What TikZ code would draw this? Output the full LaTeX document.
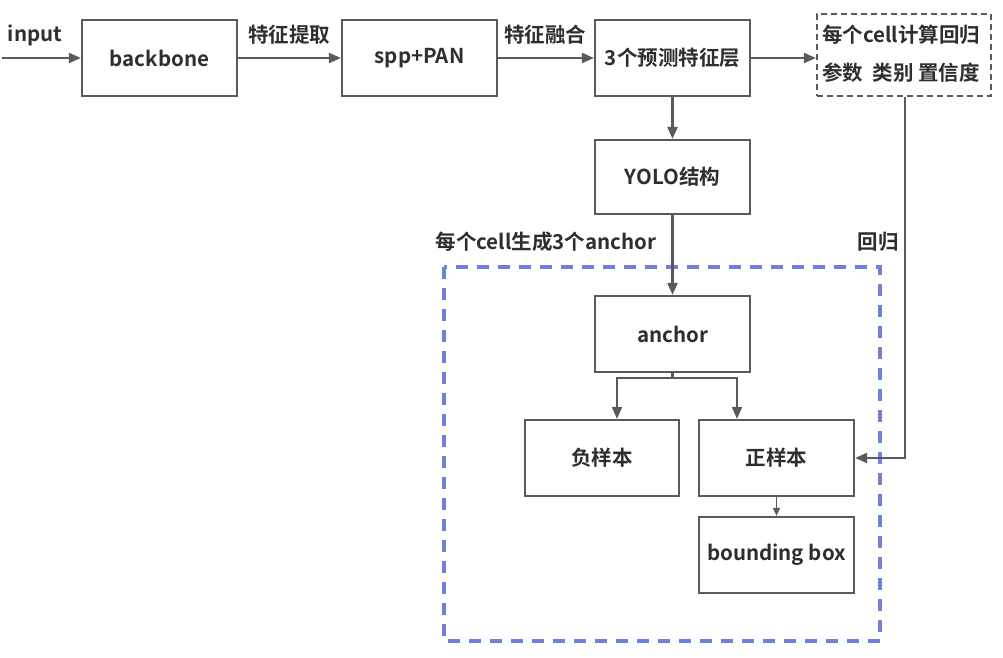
\documentclass[tikz,border=0pt]{standalone}
\usepackage{fontspec}
\setmainfont{Noto Sans CJK SC}[BoldFont={Noto Sans CJK SC Bold}]
\usetikzlibrary{arrows.meta}
\definecolor{lc}{HTML}{5A5A5A}
\definecolor{tc}{HTML}{2E2E2E}
\definecolor{bl}{HTML}{6F80DC}
\tikzset{
  box/.style={draw=lc, line width=2.2pt, minimum width=155pt, minimum height=76pt, inner sep=0pt, font=\fontsize{20.5}{24}\selectfont\bfseries, text=tc},
  lbl/.style={font=\fontsize{20.5}{24}\selectfont\bfseries, text=tc, inner sep=0pt},
  conn/.style={draw=lc, line width=2.2pt, -{Triangle[length=12pt,width=10pt]}},
  sconn/.style={draw=lc, line width=1.6pt, -{Triangle[length=8pt,width=7pt]}}
}
\begin{document}
\begin{tikzpicture}[x=1pt,y=-1pt]
\useasboundingbox (0,0) rectangle (1003,657);
\fill[white] (0,0) rectangle (1003,657);
% blue dashed group
\draw[bl, line width=4pt, dash pattern=on 12pt off 9pt] (444,267) rectangle (880,641);
\node[box] (bb) at (159.5,58) {backbone};
\node[box] (spp) at (419.5,58) {spp+PAN};
\node[box] (pred) at (672.5,58) {3个预测特征层};
\node[draw=lc, line width=2.2pt, dash pattern=on 6pt off 4pt, minimum width=174pt, minimum height=82pt, inner sep=0pt] (cell) at (904,55) {};
\node[lbl, anchor=west] (cellA) at (822,35) {每个cell计算回归};
\node[lbl, anchor=west] (cellB) at (822,73) {参数\ \ 类别 置信度};
\node[box, minimum height=74pt] (yolo) at (672.5,177) {YOLO结构};
\node[box] (anc) at (672.5,334) {anchor};
\node[box, minimum width=154pt] (neg) at (602,458) {负样本};
\node[box] (pos) at (776.5,458) {正样本};
\node[box] (bbox) at (776.5,555) {bounding box};
\coordinate (in) at (2,58);
\node[lbl] (tin) at (35,35) {input};
\node[lbl] (t1) at (289,35) {特征提取};
\node[lbl] (t2) at (545,35) {特征融合};
\node[lbl] (t3) at (546,242) {每个cell生成3个anchor};
\node[lbl] (t4) at (878,242) {回归};
% connectors
\draw[conn] (in) -- (bb.west);
\draw[conn] (bb) -- (spp);
\draw[conn] (spp) -- (pred);
\draw[conn] (pred.east) -- (pred.east -| cell.west);
\draw[conn] (pred) -- (yolo);
\draw[conn] (yolo) -- (anc);
\coordinate (sp) at (672.5,378);
\draw[conn] (anc.south) -- (sp) -| (neg.north -| 617,0);
\draw[conn] (sp) -| (pos.north -| 737,0);
\draw[conn] (cell.south -| 905,0) |- (pos.east);
\draw[sconn] (pos) -- (bbox);
\end{tikzpicture}
\end{document}
